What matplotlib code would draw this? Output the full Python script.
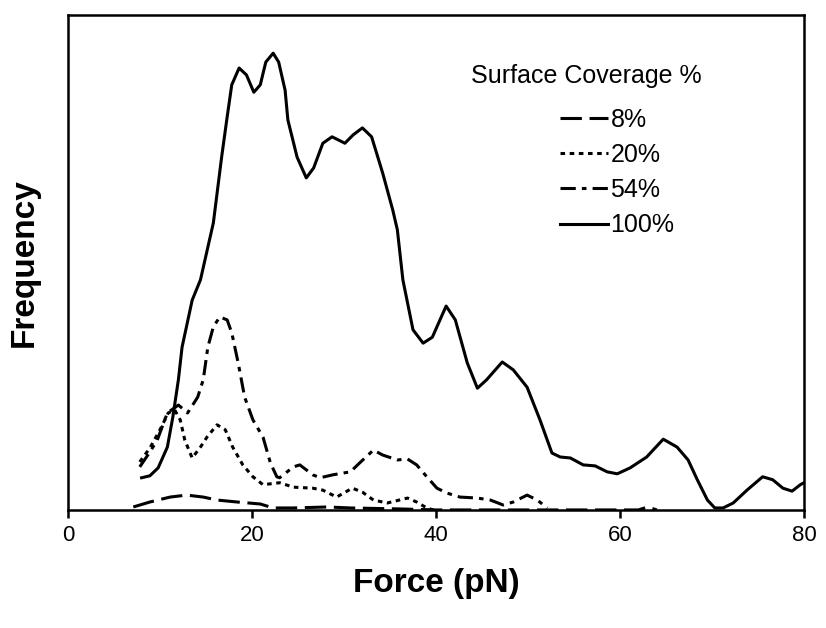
import matplotlib.pyplot as plt

plt.rcParams['font.family'] = ['Liberation Sans', 'DejaVu Sans']

# force (pN) and frequency (arbitrary units, 0-100)
force_100 = [8.0, 8.9, 9.8, 10.8, 11.4, 12.0, 12.4, 13.5, 14.4, 15.8, 16.7, 17.3, 17.8, 18.6,
             19.4, 20.2, 20.9, 21.5, 22.3, 22.9, 23.6, 23.9, 24.9, 25.9, 26.7, 27.7, 28.7,
             30.1, 31.0, 32.0, 33.0, 34.2, 35.3, 35.8, 36.4, 37.5, 38.6, 39.6, 41.1, 42.1,
             43.4, 44.5, 45.5, 47.2, 48.4, 49.9, 51.3, 52.6, 53.5, 54.6, 56.0, 57.3, 58.6,
             59.7, 61.1, 62.9, 64.7, 66.2, 67.4, 68.4, 69.5, 70.3, 71.2, 72.3, 73.8, 75.5,
             76.6, 77.7, 78.7, 79.6, 80.0]
freq_100 = [6.5, 6.9, 8.5, 12.7, 18.8, 26.3, 32.9, 42.4, 46.5, 58.0, 71.3, 79.4, 85.9, 89.3,
            87.9, 84.4, 85.9, 90.5, 92.3, 90.5, 84.8, 78.8, 71.3, 67.1, 69.1, 74.1, 75.4,
            74.1, 75.8, 77.2, 75.4, 68.1, 60.6, 56.6, 46.5, 36.4, 33.7, 34.9, 41.2, 38.4,
            29.7, 24.6, 26.3, 29.9, 28.3, 24.8, 18.2, 11.5, 10.7, 10.5, 9.1, 8.9, 7.7,
            7.3, 8.5, 10.7, 14.3, 12.7, 10.1, 6.1, 2.0, 0.4, 0.4, 1.4, 4.0, 6.7,
            6.1, 4.4, 3.8, 5.1, 5.5]

force_54 = [7.8, 8.9, 9.7, 10.8, 12.0, 13.0, 14.1, 14.7, 15.2, 15.8, 16.5, 17.3, 17.8, 18.5,
            19.2, 20.1, 21.2, 22.0, 22.7, 23.0, 24.5, 25.2, 26.6, 27.4, 28.8, 30.7, 31.7,
            33.2, 34.2, 35.8, 36.9, 37.9, 39.0, 40.1, 41.2, 42.6, 44.5, 45.9, 47.3, 48.4,
            49.9, 51.0, 52.1]
freq_54 = [8.7, 11.7, 14.1, 19.6, 21.2, 19.6, 22.8, 26.3, 32.9, 37.0, 39.0, 38.4, 35.8, 29.7,
           22.8, 18.2, 14.7, 9.5, 6.7, 6.5, 8.7, 9.1, 7.1, 6.5, 7.1, 7.7, 9.5,
           12.1, 11.1, 10.1, 10.3, 9.1, 6.7, 4.4, 3.4, 2.6, 2.4, 2.0, 1.0, 1.6,
           3.0, 2.0, 0.4]

force_20 = [7.8, 8.9, 10.0, 10.9, 11.6, 12.2, 12.7, 13.5, 14.4, 15.1, 16.2, 17.1, 17.9, 19.0,
            20.1, 21.2, 23.0, 24.5, 26.6, 27.7, 29.2, 30.9, 32.0, 33.2, 34.7, 36.9, 37.9,
            39.0, 39.7]
freq_20 = [9.7, 12.5, 16.2, 19.6, 20.2, 18.2, 14.1, 10.5, 12.7, 14.7, 17.2, 16.2, 12.7, 9.1,
           6.7, 5.1, 5.5, 4.6, 4.4, 4.0, 2.6, 4.4, 3.6, 2.0, 1.4, 2.4, 1.6,
           0.4, 0.0]

force_8 = [7.1, 8.9, 11.1, 12.9, 14.7, 16.2, 18.4, 20.9, 22.3, 24.5, 28.2, 30.7, 36.1, 40.1,
           62.0, 63.0, 64.0]
freq_8 = [0.6, 1.6, 2.6, 3.0, 2.6, 2.0, 1.6, 1.2, 0.4, 0.4, 0.6, 0.4, 0.2, 0.0,
          0.0, 0.6, 0.0]

fig = plt.figure(figsize=(8.26, 6.28), dpi=100)
ax = fig.add_axes([0.0823, 0.188, 0.8911, 0.788])

lw = 2.2
kw = dict(color='black', lw=lw, solid_joinstyle='round', dash_joinstyle='round')
l8, = ax.plot(force_8, freq_8, dashes=(7, 2.5), **kw)
l20, = ax.plot(force_20, freq_20, dashes=(1.5, 1.5), **kw)
l54, = ax.plot(force_54, freq_54, dashes=(5, 2, 1.5, 2), **kw)
l100, = ax.plot(force_100, freq_100, **kw)

ax.set_xlim(0, 80)
ax.set_ylim(0, 100)
ax.set_xticks([0, 20, 40, 60, 80])
ax.set_yticks([])
ax.tick_params(axis='x', direction='out', length=6, width=1.8, labelsize=16, pad=5)
for s in ax.spines.values():
    s.set_linewidth(1.8)

ax.set_xlabel('Force (pN)', fontsize=24, fontweight='bold', labelpad=16)
ax.set_ylabel('Frequency', fontsize=24, fontweight='bold', labelpad=20)

ax.text(0.704, 0.876, 'Surface Coverage %', transform=ax.transAxes,
        ha='center', va='center', fontsize=18)
ax.legend([l8, l20, l54, l100], ['8%', '20%', '54%', '100%'],
          loc='upper left', bbox_to_anchor=(0.652, 0.838), frameon=False,
          fontsize=18, handlelength=1.9, handletextpad=0.1, labelspacing=0.45,
          borderpad=0)

fig.savefig('out.png', dpi=100)
